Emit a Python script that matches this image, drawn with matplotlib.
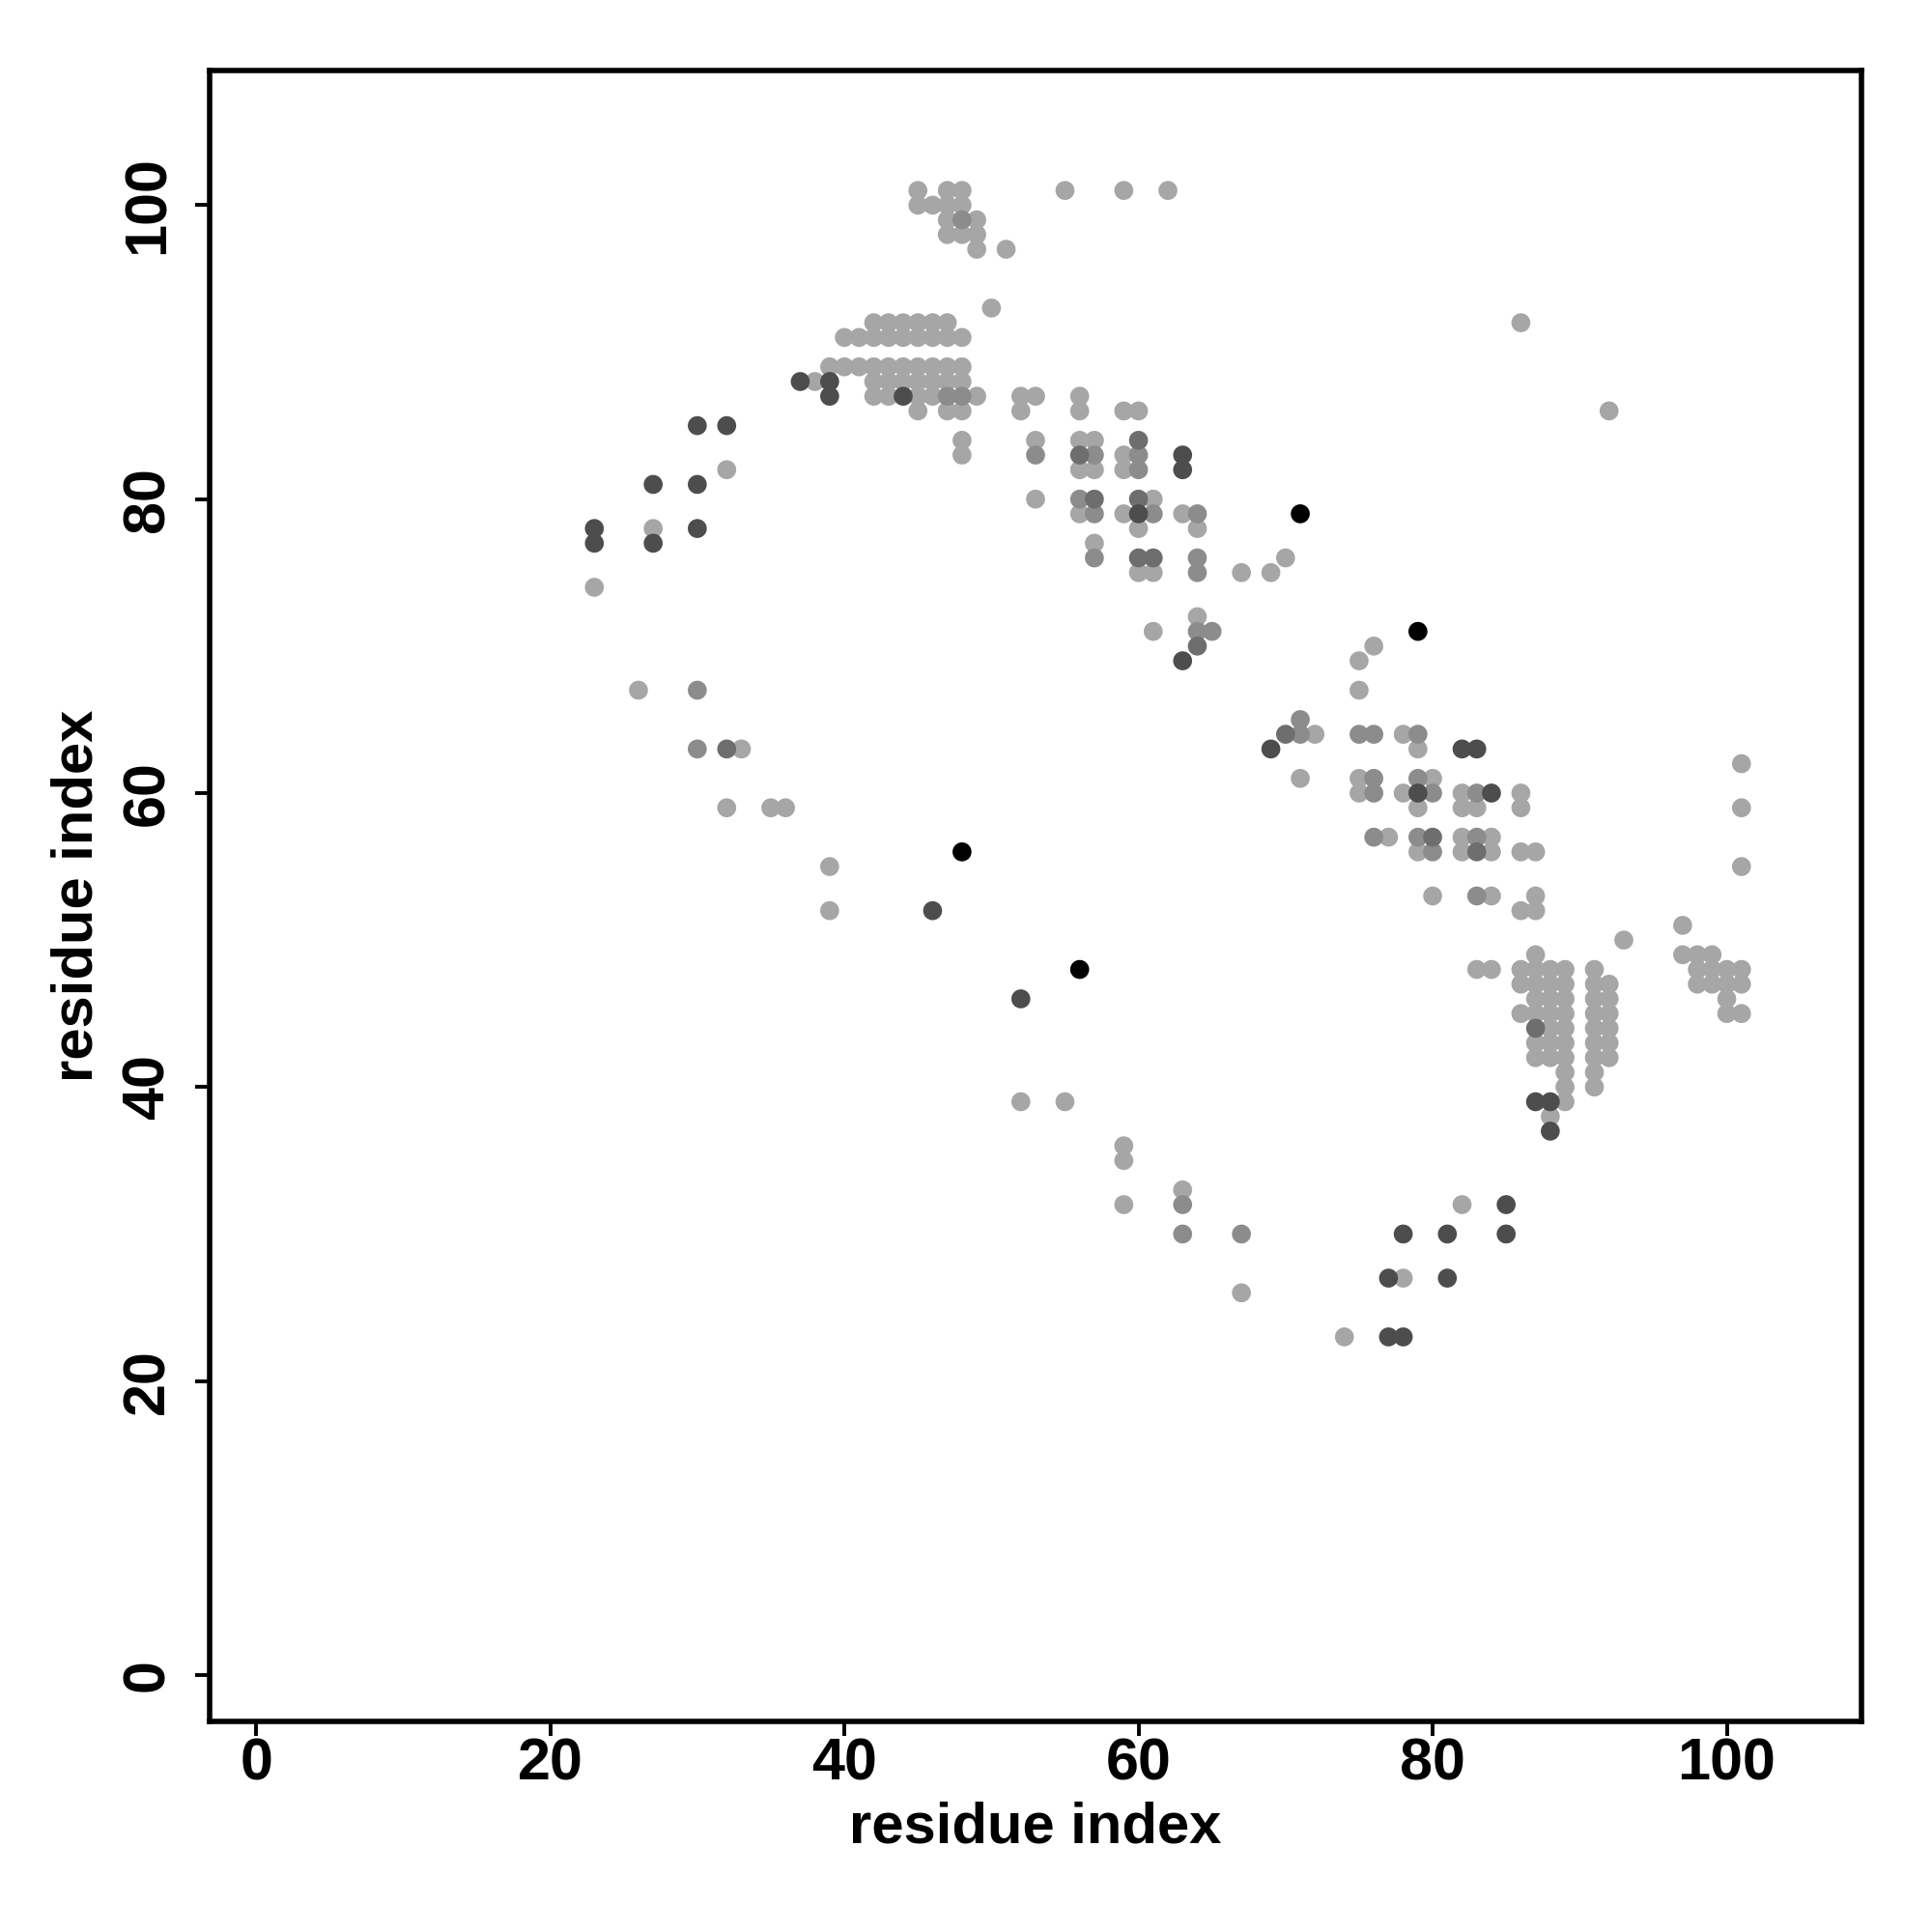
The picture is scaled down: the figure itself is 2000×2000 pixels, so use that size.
import matplotlib
matplotlib.use("Agg")
import matplotlib.pyplot as plt

# contact points grouped by grey level (residue i, residue j)
light = [
    (45, 101), (47, 101), (48, 101), (55, 101), (59, 101), (62, 101),
    (45, 100), (46, 100), (47, 100), (48, 100),
    (47, 99), (49, 99), (47, 98), (48, 98), (49, 98), (49, 97), (51, 97),
    (50, 93), (86, 92), (92, 86),
    (42, 92), (43, 92), (44, 92), (45, 92), (46, 92), (47, 92),
    (40, 91), (41, 91), (42, 91), (43, 91), (44, 91), (45, 91), (46, 91), (47, 91), (48, 91),
    (39, 89), (40, 89), (41, 89), (42, 89), (43, 89), (44, 89), (45, 89), (46, 89), (47, 89), (48, 89),
    (38, 88), (42, 88), (43, 88), (44, 88), (45, 88), (46, 88), (47, 88), (48, 88),
    (42, 87), (43, 87), (45, 87), (46, 87), (49, 87),
    (45, 86), (47, 86), (48, 86), (48, 84), (48, 83),
    (52, 87), (53, 87), (52, 86), (56, 87), (56, 86), (59, 86), (60, 86),
    (53, 84), (56, 84), (57, 84), (56, 82), (57, 82), (59, 83), (59, 82),
    (53, 80), (56, 79), (61, 80), (59, 79), (60, 78), (63, 79), (64, 78),
    (57, 77), (60, 75), (61, 75), (67, 75), (69, 75), (70, 76),
    (64, 72), (61, 71),
    (32, 82), (27, 78), (23, 74), (26, 67), (33, 63), (32, 59), (35, 59), (36, 59),
    (39, 55), (39, 52),
    (76, 70), (75, 69), (75, 67), (72, 64), (71, 61), (78, 64), (79, 63),
    (75, 61), (75, 60), (80, 61), (78, 60), (79, 59), (82, 60), (82, 59), (83, 59),
    (86, 60), (86, 59), (77, 57), (79, 56), (82, 57), (84, 57), (82, 56), (84, 56),
    (86, 56), (87, 56), (80, 53), (84, 53), (87, 53), (86, 52), (87, 52),
    (101, 62), (101, 59), (101, 55), (97, 51), (93, 50),
    (87, 49), (97, 49), (98, 49), (99, 49),
    (83, 48), (84, 48), (86, 48), (87, 48), (88, 48), (89, 48), (91, 48),
    (98, 48), (99, 48), (100, 48), (101, 48),
    (86, 47), (87, 47), (88, 47), (89, 47), (91, 47), (92, 47),
    (98, 47), (99, 47), (100, 47), (101, 47),
    (87, 46), (88, 46), (89, 46), (91, 46), (92, 46), (100, 46),
    (86, 45), (87, 45), (88, 45), (89, 45), (91, 45), (92, 45), (100, 45), (101, 45),
    (88, 44), (89, 44), (91, 44), (92, 44),
    (87, 43), (88, 43), (89, 43), (91, 43), (92, 43),
    (87, 42), (88, 42), (89, 42), (91, 42), (92, 42),
    (89, 41), (91, 41), (89, 40), (91, 40), (89, 39), (88, 38),
    (52, 39), (55, 39), (59, 36), (59, 35), (59, 32), (63, 33),
    (67, 26), (74, 23), (78, 27), (82, 32),
]
medium = [
    (48, 99), (47, 87), (48, 87), (53, 83), (57, 83), (60, 83), (60, 82),
    (56, 80), (57, 79), (61, 79), (64, 79), (57, 76), (64, 76), (64, 75),
    (64, 71), (65, 71), (30, 67), (30, 63),
    (71, 65), (71, 64), (75, 64), (76, 64), (79, 64), (76, 61), (76, 60),
    (79, 61), (80, 60), (83, 60), (76, 57), (79, 57), (80, 56), (83, 57), (83, 53),
    (63, 32), (63, 30), (67, 30),
]
dark = [
    (56, 83), (60, 84), (57, 80), (60, 80), (60, 76), (61, 76), (64, 70),
    (32, 63), (70, 64), (80, 57), (83, 56), (87, 44),
]
darker = [
    (63, 83), (63, 82), (60, 79), (63, 69),
    (37, 88), (39, 88), (39, 87), (44, 87),
    (30, 85), (32, 85), (27, 81), (30, 81), (23, 78), (23, 77), (27, 77), (30, 78),
    (46, 52), (69, 63), (82, 63), (83, 63), (79, 60), (84, 60),
    (87, 39), (88, 39), (88, 37), (52, 46),
    (77, 23), (78, 23), (77, 27), (78, 30), (81, 30), (81, 27), (85, 32), (85, 30),
]
black = [(71, 79), (79, 71), (48, 56), (56, 48)]

groups = [
    (light, '#a6a6a6'),
    (medium, '#8c8c8c'),
    (dark, '#6e6e6e'),
    (darker, '#4d4d4d'),
    (black, '#000000'),
]

tick_vals = [0, 20, 40, 60, 80, 100]

plt.rcParams['font.family'] = ['Liberation Sans', 'DejaVu Sans']
fig = plt.figure(figsize=(10, 10), dpi=200)
ax = fig.add_axes([0.1085, 0.109, 0.855, 0.8545])

for pts, col in groups:
    xs = [p[0] for p in pts]
    ys = [p[1] for p in pts]
    ax.scatter(xs, ys, s=50, c=col, edgecolors='none', zorder=3)

ax.set_xlim(-3.16, 109.16)
ax.set_ylim(-3.16, 109.16)
ax.set_xticks(tick_vals)
ax.set_yticks(tick_vals)
ax.set_xticklabels([str(v) for v in tick_vals], fontsize=22, fontweight='bold')
ax.set_yticklabels([str(v) for v in tick_vals], fontsize=22, fontweight='bold',
                   rotation=90, va='center')
ax.tick_params(direction='out', length=5.5, width=1.4)
ax.tick_params(axis='x', pad=0.5)
ax.tick_params(axis='y', pad=7)
for sp in ax.spines.values():
    sp.set_linewidth(2.0)

ax.set_xlabel('residue index', fontsize=21.5, fontweight='bold', labelpad=3)
ax.set_ylabel('residue index', fontsize=21.5, fontweight='bold', labelpad=6.5)

fig.savefig('out.png', dpi=200)
